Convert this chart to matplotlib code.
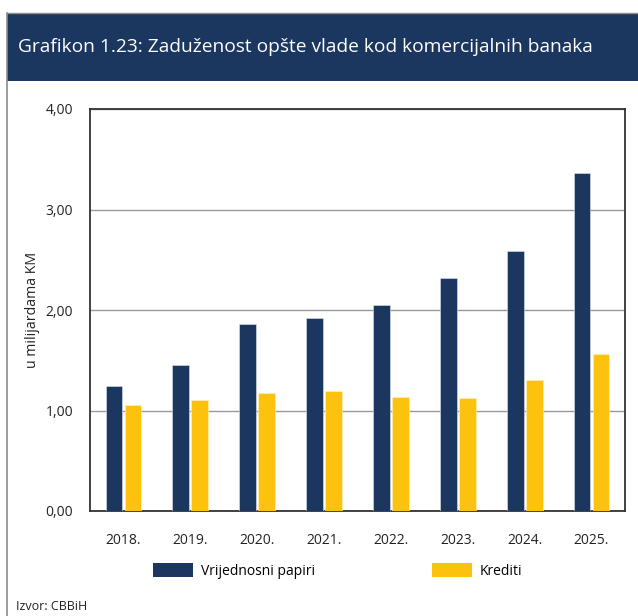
import matplotlib.pyplot as plt
import numpy as np
from matplotlib.patches import Rectangle, Patch
from matplotlib.lines import Line2D

YEARS = ["2018.", "2019.", "2020.", "2021.", "2022.", "2023.", "2024.", "2025."]
VRIJEDNOSNI = [1.24, 1.45, 1.86, 1.92, 2.05, 2.32, 2.59, 3.36]
KREDITI = [1.05, 1.10, 1.17, 1.19, 1.13, 1.12, 1.30, 1.56]
Y_TICKS = [0.0, 1.0, 2.0, 3.0, 4.0]

NAVY = "#1c375f"
YELLOW = "#fcc20e"
W, H = 638, 616

plt.rcParams["font.family"] = ["Open Sans", "DejaVu Sans"]

fig = plt.figure(figsize=(W / 100, H / 100), dpi=100)


def fx(px):
    return px / W


def fy(py):
    return 1 - py / H


# header band and outer frame
fig.patches.append(Rectangle((fx(7), fy(81)), 1 - fx(7), fy(13) - fy(81),
                             transform=fig.transFigure, facecolor=NAVY, edgecolor="none"))
fig.lines.append(Line2D([fx(7), 1], [fy(13), fy(13)], transform=fig.transFigure, color="#8c8c8c", lw=1))
fig.lines.append(Line2D([fx(7), fx(7)], [fy(13), 0], transform=fig.transFigure, color="#8c8c8c", lw=1.2))
fig.text(fx(18), fy(47), "Grafikon 1.23: Zaduženost opšte vlade kod komercijalnih banaka",
         color="white", fontsize=13.8, va="center", ha="left")

ax = fig.add_axes([fx(90), fy(511), fx(625) - fx(90), fy(109) - fy(511)])
x = np.arange(len(YEARS))
bw = 0.25
off = 0.142
ax.bar(x - off, VRIJEDNOSNI, bw, color=NAVY, edgecolor="#dfe4ee", linewidth=0.4, zorder=3)
ax.bar(x + off, KREDITI, bw, color=YELLOW, edgecolor="#fff2c0", linewidth=0.4, zorder=3)

ax.set_xlim(-0.5, len(YEARS) - 0.5)
ax.set_ylim(0, 4)
ax.set_yticks(Y_TICKS)
ax.set_yticklabels([f"{v:.2f}".replace(".", ",") for v in Y_TICKS])
ax.set_xticks(x)
ax.set_xticklabels(YEARS)
ax.tick_params(axis="both", length=0, labelsize=10, colors="#222222")
ax.tick_params(axis="y", pad=12)
ax.tick_params(axis="x", pad=16)
ax.yaxis.grid(True, color="#9a9a9a", lw=1, zorder=0)
for s in ax.spines.values():
    s.set_color("#333333")
    s.set_linewidth(1.3)
ax.set_ylabel("u milijardama KM", fontsize=10.2, color="#222222", labelpad=4)

# legend: two separate entries placed like the original
for lx, lab, col in [(153, "Vrijednosni papiri", NAVY), (432, "Krediti", YELLOW)]:
    leg = fig.legend(handles=[Patch(facecolor=col, edgecolor="none", label=lab)],
                     loc="center left", bbox_to_anchor=(fx(lx), fy(571)), frameon=False,
                     fontsize=10, handlelength=2.9, handleheight=1.15, handletextpad=0.55,
                     borderpad=0, borderaxespad=0)

fig.text(fx(16), fy(606), "Izvor: CBBiH", fontsize=9, va="center", ha="left", color="#222222")

fig.savefig("out.png", dpi=100)
